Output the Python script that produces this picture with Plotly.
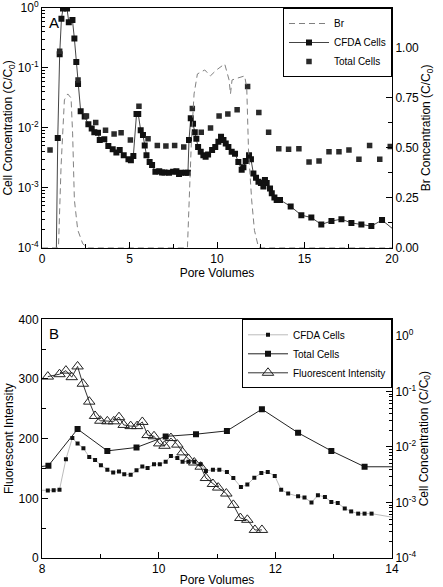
import plotly.graph_objects as go

# ---------------- Panel A data ----------------
a_cfda_x = [0.8, 0.9, 1.01, 1.11, 1.2, 1.43, 1.53, 1.74, 1.85, 1.96, 2.06, 2.21, 2.44, 2.65, 2.84, 2.99,
            3.2, 3.3, 3.56, 3.79, 4.04, 4.25, 4.44, 4.67, 4.94, 5.08, 5.22, 5.4, 5.5, 5.64, 5.77, 5.87,
            5.97, 6.15, 6.29, 6.48, 6.7, 6.86, 7.0, 7.26, 7.49, 7.68, 7.83, 7.96, 8.21, 8.34, 8.4, 8.5,
            8.63, 8.73, 8.82, 8.92, 9.07, 9.22, 9.35, 9.49, 9.72, 9.9, 10.08, 10.23, 10.37, 10.5, 10.65,
            10.84, 11.03, 11.22, 11.41, 11.51, 11.64, 11.83, 11.94, 12.08, 12.23, 12.37, 12.51, 12.65,
            12.74, 12.84, 13.03, 13.13, 13.28, 13.41, 13.6, 14.21, 14.82, 15.39, 15.96, 16.54, 17.11,
            17.68, 18.25, 18.82, 19.43, 20.2]
a_cfda_y = [3.0e-5, 6.8e-3, 0.17, 0.66, 0.98, 0.98, 0.58, 0.63, 0.31, 0.126, 0.054, 0.019, 0.0155, 0.0115,
            0.0098, 0.0085, 0.0083, 0.0063, 0.0065, 0.0050, 0.0044, 0.0039, 0.0043, 0.0035, 0.0030, 0.0029,
            0.0034, 0.017, 0.017, 0.0091, 0.0076, 0.0051, 0.0035, 0.0027, 0.0024, 0.00186, 0.0019, 0.0018,
            0.0018, 0.00178, 0.00186, 0.0019, 0.0017, 0.00178, 0.00178, 0.00178, 0.0063, 0.0145, 0.0117,
            0.0085, 0.0066, 0.0048, 0.0040, 0.0035, 0.0033, 0.0036, 0.0043, 0.0048, 0.0059, 0.0071, 0.0063,
            0.0055, 0.0048, 0.0040, 0.0037, 0.0027, 0.0020, 0.0022, 0.0028, 0.0035, 0.0030, 0.00174,
            0.00148, 0.00126, 0.0012, 0.00105, 0.00135, 0.0012, 0.00098, 0.00081, 0.00069, 0.00063,
            0.00063, 0.00049, 0.00035, 0.00032, 0.000245, 0.00028, 0.0003, 0.00026, 0.000245, 0.00023,
            0.00029, 0.00019]

a_total_x = [0.46, 1.01, 2.06, 2.54, 3.07, 3.63, 4.12, 4.52, 5.05, 5.54, 6.06, 6.59, 7.08, 7.58, 8.1,
             8.59, 9.1, 9.63, 10.12, 10.62, 11.15, 11.75, 12.39, 12.95, 13.53, 14.09, 14.68, 15.26, 15.83,
             16.4, 16.97, 17.54, 18.11, 18.72, 19.3, 19.9]
a_total_y = [0.0043, 0.19, 0.063, 0.0158, 0.0123, 0.0091, 0.0079, 0.0083, 0.0063, 0.023, 0.0066, 0.0051,
             0.0050, 0.0051, 0.0048, 0.021, 0.0085, 0.0100, 0.0158, 0.017, 0.020, 0.049, 0.018, 0.0085,
             0.0045, 0.0044, 0.0045, 0.0027, 0.0028, 0.0040, 0.0040, 0.0043, 0.0030, 0.0051, 0.0030, 0.0049]

a_br_x = [0.0, 0.94, 1.09, 1.28, 1.47, 1.66, 1.75, 1.85, 2.04, 2.33, 2.61, 8.31, 8.54, 8.69, 8.88, 9.11,
          9.3, 9.62, 9.97, 10.44, 10.69, 10.77, 10.86, 11.2, 11.58, 11.7, 11.8, 11.98, 12.14, 12.37, 12.6, 20.0]
a_br_y = [0.0, 0.0, 0.41, 0.74, 0.77, 0.75, 0.57, 0.24, 0.09, 0.02, 0.0, 0.0, 0.54, 0.77, 0.87, 0.88,
          0.89, 0.86, 0.89, 0.92, 0.84, 0.77, 0.84, 0.85, 0.86, 0.80, 0.49, 0.24, 0.087, 0.003, 0.0, 0.0]

a_left_ticks = [1e-4, 1e-3, 1e-2, 1e-1, 1]
a_left_text = ["10<sup>-4</sup>", "10<sup>-3</sup>", "10<sup>-2</sup>", "10<sup>-1</sup>", "10<sup>0</sup>"]
a_right_ticks = [0, 0.25, 0.5, 0.75, 1.0]

# ---------------- Panel B data ----------------
b_fluor_x = [8.10, 8.30, 8.41, 8.51, 8.61, 8.70, 8.81, 8.91, 9.00, 9.12, 9.23, 9.32, 9.40, 9.52, 9.63,
             9.72, 9.81, 9.92, 10.01, 10.10, 10.21, 10.32, 10.41, 10.51, 10.61, 10.72, 10.81, 10.93,
             11.02, 11.16, 11.28, 11.40, 11.52, 11.65, 11.77]
b_fluor_y = [304, 308, 314, 303, 321, 292, 262, 238, 230, 229, 229, 236, 223, 221, 221, 228, 206, 204,
             192, 188, 201, 190, 177, 166, 160, 153, 134, 124, 118, 108, 89, 67, 64, 47, 47]

b_total_x = [7.6, 8.11, 8.61, 9.12, 9.62, 10.12, 10.64, 11.17, 11.77, 12.39, 12.96, 13.53, 14.1]
b_total_y = [0.0040, 0.0046, 0.021, 0.0085, 0.0098, 0.0155, 0.017, 0.0195, 0.048, 0.018, 0.0085, 0.0044, 0.0044]

b_cfda_x = [7.9, 8.10, 8.20, 8.30, 8.41, 8.52, 8.61, 8.71, 8.81, 8.91, 9.01, 9.12, 9.22, 9.32, 9.41, 9.52,
            9.62, 9.72, 9.81, 9.92, 10.02, 10.12, 10.21, 10.32, 10.41, 10.51, 10.61, 10.72, 10.81, 10.93,
            11.04, 11.17, 11.28, 11.41, 11.52, 11.64, 11.76, 11.87, 11.99, 12.10, 12.22, 12.39, 12.50,
            12.62, 12.73, 12.85, 12.96, 13.07, 13.19, 13.30, 13.42, 13.53, 13.65, 14.2]
b_cfda_y = [0.00166, 0.00164, 0.00166, 0.0017, 0.006, 0.0145, 0.0115, 0.0095, 0.0066, 0.0058, 0.0047,
            0.0039, 0.00347, 0.00363, 0.00324, 0.00316, 0.0038, 0.00447, 0.00417, 0.0049, 0.0049, 0.0054,
            0.0069, 0.0063, 0.0054, 0.0054, 0.0054, 0.0049, 0.0037, 0.0039, 0.0039, 0.00355, 0.00275,
            0.0019, 0.0021, 0.0028, 0.0034, 0.00355, 0.003, 0.0017, 0.00145, 0.00129, 0.00123, 0.001,
            0.00135, 0.00126, 0.00102, 0.00098, 0.00078, 0.00069, 0.00063, 0.00063, 0.00063, 0.0005]

b_right_ticks = [1e-4, 1e-3, 1e-2, 1e-1, 1]
b_right_text = ["10<sup>-4</sup>", "10<sup>-3</sup>", "10<sup>-2</sup>", "10<sup>-1</sup>", "10<sup>0</sup>"]

FONT = "Liberation Sans, Arial, sans-serif"

fig = go.Figure()

# Panel A
fig.add_trace(go.Scatter(x=a_br_x, y=a_br_y, mode="lines", name="Br", xaxis="x", yaxis="y2",
                         line=dict(color="#808080", width=1, dash="6px,4px"), legend="legend"))
fig.add_trace(go.Scatter(x=a_cfda_x, y=a_cfda_y, mode="lines+markers", name="CFDA Cells", xaxis="x", yaxis="y",
                         line=dict(color="#444444", width=1),
                         marker=dict(symbol="square", size=6, color="#111111"), legend="legend"))
fig.add_trace(go.Scatter(x=a_total_x, y=a_total_y, mode="markers", name="Total Cells", xaxis="x", yaxis="y",
                         marker=dict(symbol="square", size=5.5, color="#2a2a2a"), legend="legend"))

# Panel B
fig.add_trace(go.Scatter(x=b_cfda_x, y=b_cfda_y, mode="lines+markers", name="CFDA Cells", xaxis="x2", yaxis="y4",
                         line=dict(color="#bbbbbb", width=1),
                         marker=dict(symbol="square", size=4, color="#111111"), legend="legend2"))
fig.add_trace(go.Scatter(x=b_total_x, y=b_total_y, mode="lines+markers", name="Total Cells", xaxis="x2", yaxis="y4",
                         line=dict(color="#222222", width=1),
                         marker=dict(symbol="square", size=6, color="#111111"), legend="legend2"))
fig.add_trace(go.Scatter(x=b_fluor_x, y=b_fluor_y, mode="lines+markers", name="Fluorescent Intensity",
                         xaxis="x2", yaxis="y3",
                         line=dict(color="#333333", width=1),
                         marker=dict(symbol="triangle-up-open", size=10, color="#222222", line=dict(width=1)),
                         legend="legend2"))

axis_common = dict(showline=True, linecolor="black", linewidth=1, ticks="inside", ticklen=6,
                   tickcolor="black", showgrid=False, zeroline=False, automargin=False,
                   ticklabeloverflow="allow",
                   tickfont=dict(size=12, color="black", family=FONT),
                   title_font=dict(size=12, color="black", family=FONT))

fig.update_layout(
    width=443, height=587,
    margin=dict(l=42, r=51, t=8, b=29),
    paper_bgcolor="white", plot_bgcolor="white",
    font=dict(family=FONT, color="black"),
    xaxis=dict(domain=[0, 1], anchor="y", range=[0, 20], dtick=5, mirror=True,
               minor=dict(dtick=2.5, ticks="inside", ticklen=4, tickcolor="black"),
               title=dict(text="Pore Volumes", standoff=0), **axis_common),
    yaxis=dict(domain=[0.564, 1], anchor="x", type="log", range=[-4, 0.0005],
               tickvals=a_left_ticks, ticktext=a_left_text,
               minor=dict(dtick="D1", ticks="inside", ticklen=3, tickcolor="black"),
               title=dict(text="Cell Concentration (C/C<sub>0</sub>)", standoff=2), **axis_common),
    yaxis2=dict(overlaying="y", side="right", anchor="x", range=[0, 1.2], tickvals=a_right_ticks,
                tickformat=".2f",
                minor=dict(dtick=0.125, ticks="inside", ticklen=4, tickcolor="black"),
                title=dict(text="Br Concentration (C/C<sub>0</sub>)", standoff=0), **axis_common),
    xaxis2=dict(domain=[0, 1], anchor="y3", range=[8, 14], dtick=2, mirror=True,
                minor=dict(dtick=1, ticks="inside", ticklen=4, tickcolor="black"),
                title=dict(text="Pore Volumes", standoff=0), **axis_common),
    yaxis3=dict(domain=[0, 0.434], anchor="x2", range=[0, 400], dtick=100,
                minor=dict(dtick=50, ticks="inside", ticklen=4, tickcolor="black"),
                title=dict(text="Fluorescent Intensity", standoff=2), **axis_common),
    yaxis4=dict(overlaying="y3", side="right", anchor="x2", type="log", range=[-4, 0.3],
                tickvals=b_right_ticks, ticktext=b_right_text,
                minor=dict(dtick="D1", ticks="inside", ticklen=3, tickcolor="black"),
                title=dict(text="Cell Concentration (C/C<sub>0</sub>)", standoff=0), **axis_common),
    legend=dict(x=1, xanchor="right", y=1, yanchor="top", bgcolor="white", bordercolor="black",
                borderwidth=1, font=dict(size=10, family=FONT, color="black"), itemwidth=40,
                tracegroupgap=0),
    legend2=dict(x=1, xanchor="right", y=0.434, yanchor="top", bgcolor="white", bordercolor="black",
                 borderwidth=1, font=dict(size=10, family=FONT, color="black"), itemwidth=40,
                 tracegroupgap=0),
    showlegend=True,
    annotations=[
        dict(text="A", xref="x domain", yref="y domain", x=0.015, y=0.985, xanchor="left", yanchor="top",
             showarrow=False, font=dict(size=15, family=FONT, color="black")),
        dict(text="B", xref="x2 domain", yref="y3 domain", x=0.015, y=0.985, xanchor="left", yanchor="top",
             showarrow=False, font=dict(size=15, family=FONT, color="black")),
    ],
)

fig.write_html("out.html", config={"displayModeBar": False},
               post_script="document.body.style.margin='0px';document.body.style.overflow='hidden';")
